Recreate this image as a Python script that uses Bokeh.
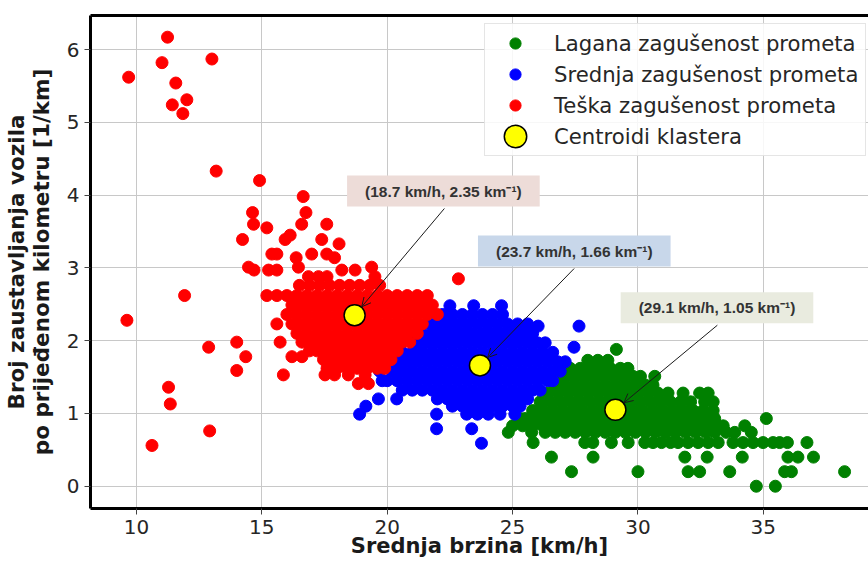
import math
from bokeh.plotting import figure
from bokeh.models import (Range1d, LinearAxis, FixedTicker, Label, Arrow,
                          OpenHead, Legend, LegendItem)
from bokeh.embed import file_html
from bokeh.resources import INLINE

# ---------------- data ----------------
X_TICKS = [10, 15, 20, 25, 30, 35]
Y_TICKS = [0, 1, 2, 3, 4, 5, 6]
X_LABEL = "Srednja brzina [km/h]"
Y_LABEL = ["Broj zaustavljanja vozila", "po prijeđenom kilometru [1/km]"]
CLUSTER_NAMES = ["Lagana zagušenost prometa", "Srednja zagušenost prometa",
                 "Teška zagušenost prometa"]
CENTROID_NAME = "Centroidi klastera"

centroid_speed = [29.1, 23.7, 18.7]
centroid_stops = [1.05, 1.66, 2.35]

# rows of (stops per km, [speeds])
light_rows = [
    (1.88, [29.14]),
    (1.73, [28.0, 28.4, 28.8]),
    (1.62, [27.3, 27.7, 28.1, 28.5, 28.9, 29.3, 29.6]),
    (1.51, [27.0, 27.4, 27.8, 28.2, 28.6, 29.0, 29.4, 29.8, 30.1, 30.67]),
    (1.39, [26.7, 27.1, 27.5, 27.9, 28.3, 28.7, 29.1, 29.5, 29.9, 30.3, 30.6]),
    (1.28, [26.4, 26.8, 27.2, 27.6, 28.0, 28.4, 28.8, 29.2, 29.6, 30.0, 30.4, 30.8, 31.2, 31.8, 32.46, 32.8]),
    (1.16, [26.1, 26.5, 26.9, 27.3, 27.7, 28.1, 28.5, 28.9, 29.3, 29.7, 30.1, 30.5, 30.9, 31.3, 31.7, 32.1, 32.66, 33.0]),
    (1.04, [25.8, 26.2, 26.6, 27.0, 27.4, 27.8, 28.2, 28.6, 29.0, 29.4, 29.8, 30.2, 30.6, 31.0, 31.4, 31.8, 32.2, 32.6, 33.0]),
    (0.93, [25.3, 25.5, 25.9, 26.3, 26.7, 27.1, 27.5, 27.9, 28.3, 28.7, 29.1, 29.5, 29.9, 30.3, 30.7, 31.1, 31.5, 31.9, 32.3, 32.7, 33.06, 35.12]),
    (0.83, [25.0, 25.4, 25.8, 26.2, 26.6, 27.0, 27.4, 27.8, 28.2, 28.6, 29.0, 29.4, 29.8, 30.2, 30.6, 31.0, 31.4, 31.8, 32.2, 32.6, 33.0, 33.4, 34.26]),
    (0.74, [24.83, 25.76, 26.3, 26.7, 27.1, 27.5, 27.9, 28.3, 28.7, 29.1, 29.5, 29.9, 30.3, 30.7, 31.1, 31.5, 31.9, 32.3, 32.7, 33.06, 33.52, 33.86, 34.52]),
    (0.60, [25.82, 27.88, 28.2, 28.94, 29.61, 30.27, 30.6, 30.94, 31.3, 31.6, 32.0, 32.4, 32.8, 33.2, 33.79, 34.19, 34.59, 34.99, 35.39, 35.65, 35.96, 36.74]),
    (0.40, [26.55, 28.21, 31.87, 32.76, 34.16, 35.98, 36.38, 37.0]),
    (0.20, [27.35, 30.0, 32.0, 32.46, 33.66, 35.85, 36.12, 38.24]),
    (0.00, [34.72, 35.48]),
]

medium_rows = [
    (2.48, [22.5, 23.45, 24.56]),
    (2.36, [22.2, 22.6, 23.0, 23.4, 23.8, 24.2, 24.6]),
    (2.23, [21.7, 22.0, 22.4, 22.8, 23.2, 23.6, 24.0, 24.4, 24.8, 25.2, 25.6]),
    (2.20, [26.02, 27.65]),
    (2.10, [21.4, 21.8, 22.2, 22.6, 23.0, 23.4, 23.8, 24.2, 24.6, 25.0, 25.4, 25.8]),
    (1.97, [21.0, 21.2, 21.6, 22.0, 22.4, 22.8, 23.2, 23.6, 24.0, 24.4, 24.8, 25.2, 25.6, 26.0, 26.3]),
    (1.91, [27.45]),
    (1.84, [20.6, 21.0, 21.4, 21.8, 22.2, 22.6, 23.0, 23.4, 23.8, 24.2, 24.6, 25.0, 25.4, 25.8, 26.2, 26.6]),
    (1.71, [20.2, 20.4, 20.8, 21.2, 21.6, 22.0, 22.4, 22.8, 23.2, 23.6, 24.0, 24.4, 24.8, 25.2, 25.6, 26.0, 26.4, 26.8, 27.1]),
    (1.58, [19.7, 20.2, 20.6, 21.0, 21.4, 21.8, 22.2, 22.6, 23.0, 23.4, 23.8, 24.2, 24.6, 25.0, 25.4, 25.8, 26.2, 26.6, 26.9]),
    (1.45, [19.8, 20.0, 20.4, 20.8, 21.2, 21.6, 22.0, 22.4, 22.8, 23.2, 23.6, 24.0, 24.4, 24.8, 25.2, 25.6, 26.0, 26.4, 26.6]),
    (1.32, [20.6, 21.0, 21.4, 21.8, 22.2, 22.6, 23.0, 23.4, 23.8, 24.2, 24.6, 25.0, 25.4, 25.8, 26.1]),
    (1.20, [19.65, 20.38, 22.0, 22.4, 22.8, 23.2, 23.6, 24.0, 24.4, 24.8, 25.2, 25.6]),
    (1.10, [19.15, 22.6, 23.0, 23.4, 23.8, 24.2, 24.6, 25.0, 25.3]),
    (0.99, [18.9, 21.97, 23.17, 23.6, 24.03, 24.5, 25.09]),
    (0.79, [21.97, 23.37]),
    (0.59, [23.76]),
]

heavy_rows = [
    (6.17, [11.24]),
    (5.87, [13.01]),
    (5.82, [11.02]),
    (5.62, [9.69]),
    (5.54, [11.57]),
    (5.31, [12.01]),
    (5.24, [11.43]),
    (5.12, [11.85]),
    (4.33, [13.18]),
    (4.20, [14.91]),
    (3.98, [16.65]),
    (3.76, [14.63, 16.76]),
    (3.60, [14.67, 16.59, 17.59]),
    (3.55, [15.20]),
    (3.45, [16.13]),
    (3.39, [14.23, 15.93, 17.39]),
    (3.33, [18.08]),
    (3.19, [15.40, 15.60, 16.99, 17.59]),
    (3.14, [16.37, 17.90]),
    (3.01, [14.47, 16.46, 19.38]),
    (2.97, [14.69, 15.27, 15.60, 18.19, 18.72]),
    (2.88, [16.86, 17.26, 17.60, 19.51]),
    (2.85, [22.84]),
    (2.76, [16.5, 16.9, 17.3, 17.7, 18.1, 18.5, 18.9, 19.3, 19.7]),
    (2.62, [11.92, 15.2, 15.6, 16.0, 16.4, 16.8, 17.2, 17.6, 18.0, 18.4, 18.8, 19.2, 19.6, 20.0, 20.4, 20.8, 21.2, 21.6]),
    (2.49, [16.2, 16.6, 17.0, 17.4, 17.8, 18.2, 18.6, 19.0, 19.4, 19.8, 20.2, 20.6, 21.0, 21.4, 21.8]),
    (2.36, [16.0, 16.4, 16.8, 17.2, 17.6, 18.0, 18.4, 18.8, 19.2, 19.6, 20.0, 20.4, 20.8, 21.2, 21.6, 22.0]),
    (2.28, [9.62]),
    (2.23, [15.6, 16.2, 16.6, 17.0, 17.4, 17.8, 18.2, 18.6, 19.0, 19.4, 19.8, 20.2, 20.6, 21.0, 21.4]),
    (2.10, [16.4, 16.8, 17.2, 17.6, 18.0, 18.4, 18.8, 19.2, 19.6, 20.0, 20.4, 20.8, 21.2]),
    (1.98, [14.0, 15.73, 16.6, 17.0, 17.4, 17.8, 18.2, 18.6, 19.0, 19.4, 19.8, 20.2, 20.6, 20.9]),
    (1.91, [12.88]),
    (1.86, [16.9, 17.2, 17.6, 18.0, 18.4, 18.8, 19.2, 19.6, 20.0, 20.4]),
    (1.78, [14.36, 16.2, 16.6]),
    (1.74, [17.46, 17.8, 18.2, 18.6, 19.0, 19.4, 19.8, 20.15]),
    (1.62, [17.6, 18.0, 18.4, 18.8, 19.2, 19.6, 19.9]),
    (1.59, [14.0]),
    (1.53, [15.86, 17.52, 17.9, 18.45, 19.12]),
    (1.41, [18.85, 19.25]),
    (1.36, [11.28]),
    (1.13, [11.35]),
    (0.76, [12.92]),
    (0.56, [10.62]),
]


def flatten(rows):
    xs, ys = [], []
    for y, row in rows:
        for x in row:
            xs.append(x)
            ys.append(y)
    return xs, ys


# ---------------- layout ----------------
W, H = 868, 564
ML, MT, MB = 89, 15, 56
X0, X1 = 8.168, 39.194
Y0, Y1 = -0.306, 6.468
FW = W - ML
FH = H - MT - MB
PXX = FW / (X1 - X0)
PXY = FH / (Y1 - Y0)

FONT = "DejaVu Sans"
TXT = "#262626"

p = figure(width=W, height=H, x_range=Range1d(X0, X1), y_range=Range1d(Y0, Y1),
           output_backend="svg", toolbar_location=None,
           min_border_left=ML, min_border_right=0, min_border_top=MT,
           min_border_bottom=MB, background_fill_color="white",
           border_fill_color="white")
p.outline_line_color = None

for ax in (p.xaxis[0], p.yaxis[0]):
    ax.axis_line_width = 3
    ax.axis_line_color = "black"
    ax.major_tick_in = 0
    ax.major_tick_out = 6
    ax.major_tick_line_color = "#444444"
    ax.major_tick_line_width = 1
    ax.minor_tick_in = 0
    ax.minor_tick_out = 0
    ax.major_label_text_font = FONT
    ax.major_label_text_font_size = "20px"
    ax.major_label_text_color = TXT
    ax.major_label_standoff = 5
    ax.axis_label_text_font = FONT
    ax.axis_label_text_font_style = "bold"
    ax.axis_label_text_color = "#1a1a1a"
p.xaxis.ticker = FixedTicker(ticks=X_TICKS)
p.yaxis.ticker = FixedTicker(ticks=Y_TICKS)

p.xaxis.axis_label = X_LABEL
p.xaxis.axis_label_text_font_size = "21px"
p.xaxis.axis_label_standoff = -3

p.yaxis.axis_label = "\n".join(Y_LABEL)
p.yaxis.axis_label_text_font_size = "21.5px"
p.yaxis.axis_label_text_line_height = 1.0
p.yaxis.axis_label_standoff = 10

top = LinearAxis(ticker=FixedTicker(ticks=[]), axis_line_width=3,
                 axis_line_color="black", major_tick_in=0, major_tick_out=0,
                 minor_tick_in=0, minor_tick_out=0,
                 major_label_text_font_size="0px")
p.add_layout(top, "above")

p.grid.grid_line_color = "#c8c8c8"
p.grid.grid_line_width = 1

gx, gy = flatten(light_rows)
bx, by = flatten(medium_rows)
rx, ry = flatten(heavy_rows)

r_g = p.scatter(gx, gy, size=12, fill_color="#008000", line_color="#008000")
r_b = p.scatter(bx, by, size=12, fill_color="#0000ff", line_color="#0000ff")
r_r = p.scatter(rx, ry, size=12, fill_color="#ff0000", line_color="#ff0000")
r_c = p.ellipse(x=centroid_speed, y=centroid_stops, width=21, height=21,
                width_units="screen", height_units="screen",
                fill_color="#ffff00", line_color="black", line_width=1.5)

legend = Legend(items=[LegendItem(label=CLUSTER_NAMES[0], renderers=[r_g]),
                       LegendItem(label=CLUSTER_NAMES[1], renderers=[r_b]),
                       LegendItem(label=CLUSTER_NAMES[2], renderers=[r_r]),
                       LegendItem(label=CENTROID_NAME, renderers=[r_c])],
                location=(394, 352), glyph_width=50, glyph_height=28,
                label_height=28, label_width=306, spacing=3, padding=5,
                margin=0, label_standoff=14, label_text_font=FONT,
                label_text_font_size="21.2px", label_text_color=TXT,
                border_line_color="#cccccc", border_line_width=1,
                background_fill_color="white", background_fill_alpha=0.85)
p.add_layout(legend)

# annotation boxes (offsets in screen px from the centroid, y up)
box_offsets = [(101.6, 102.1), (94.3, 114.4), (88.8, 124.2)]
arrow_starts = [(102.1, 84.6), (94.3, 96.9), (89.9, 106.7)]
box_colors = ["#e9ebdf", "#c8d7ea", "#eddcd8"]

for cx, cy, (dx, dy), (sx0, sy0), col in zip(centroid_speed, centroid_stops,
                                              box_offsets, arrow_starts, box_colors):
    txt = f"({cx} km/h, {cy:.2f} km\u207b\u00b9)"
    p.add_layout(Label(x=cx, y=cy, x_offset=dx, y_offset=dy, text=txt,
                       text_align="center", text_baseline="middle",
                       text_font="Liberation Sans", text_font_style="bold",
                       text_font_size="15.5px", text_color="#333333",
                       background_fill_color=col, padding=(18, 18, 7, 7)))
    n = math.hypot(sx0, sy0)
    ex, ey = sx0 / n * 11, sy0 / n * 11
    p.add_layout(Arrow(x_start=cx + sx0 / PXX, y_start=cy + sy0 / PXY,
                       x_end=cx + ex / PXX, y_end=cy + ey / PXY,
                       line_color="#1a1a1a", line_width=1,
                       end=OpenHead(size=9, line_width=1, line_color="#1a1a1a")))

open("out.html", "w").write(file_html(p, INLINE))
